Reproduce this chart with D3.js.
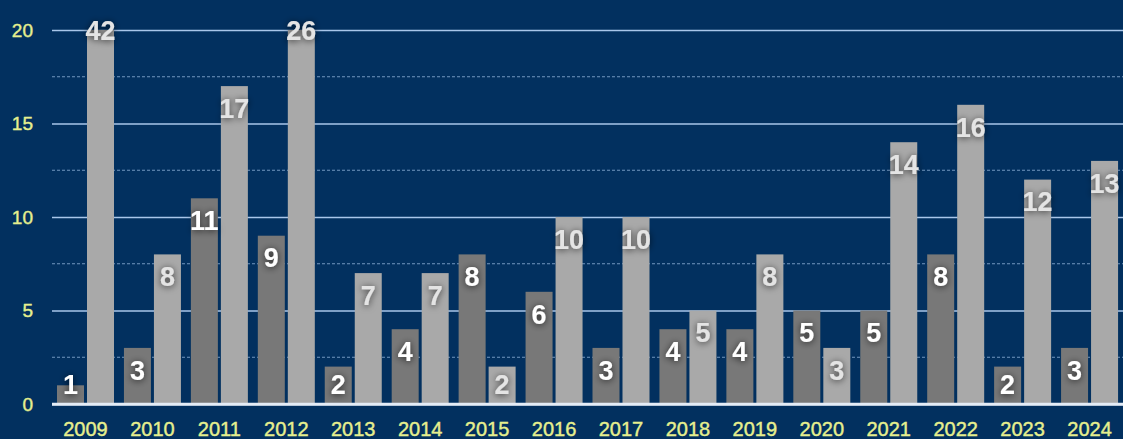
<!DOCTYPE html>
<html>
<head>
<meta charset="utf-8">
<script src="https://cdn.jsdelivr.net/npm/d3@7"></script>
<style>
  html, body { margin: 0; padding: 0; background: #02305f; }
  svg { display: block; }
  .tick text { font-family: "Liberation Sans", Arial, sans-serif; }
</style>
</head>
<body>
<div id="chart"></div>
<script>
// chart data
var years = ["2009", "2010", "2011", "2012", "2013", "2014", "2015", "2016",
             "2017", "2018", "2019", "2020", "2021", "2022", "2023", "2024"];
var darkValues = [1, 3, 11, 9, 2, 4, 8, 6, 3, 4, 4, 5, 5, 8, 2, 3];
var lightValues = [42, 8, 17, 26, 7, 7, 2, 10, 10, 5, 8, 3, 14, 16, 12, 13];
var yTicks = [0, 5, 10, 15, 20];
var yMinorTicks = [2.5, 7.5, 12.5, 17.5];

var svgWidth = 1123;
var svgHeight = 439;
var margin = { top: 30, right: 0, bottom: 35, left: 52 };
var width = svgWidth - margin.left - margin.right;
var height = svgHeight - margin.top - margin.bottom;

var svg = d3.select("#chart")
  .append("svg")
  .attr("width", svgWidth)
  .attr("height", svgHeight);

svg.append("rect")
  .attr("width", svgWidth)
  .attr("height", svgHeight)
  .attr("fill", "#02305f");

// shadow for the value labels
var defs = svg.append("defs");
var filter = defs.append("filter")
  .attr("id", "shadow")
  .attr("x", "-50%").attr("y", "-50%")
  .attr("width", "200%").attr("height", "200%");
filter.append("feDropShadow")
  .attr("dx", 0).attr("dy", 1)
  .attr("stdDeviation", 3.5)
  .attr("flood-color", "#000")
  .attr("flood-opacity", 0.7);

var chartGroup = svg.append("g")
  .attr("transform", `translate(${margin.left}, ${margin.top})`);

var xScale = d3.scaleBand()
  .domain(years)
  .range([0, width]);

var yScale = d3.scaleLinear()
  .domain([0, 20])
  .range([height, 0]);

var yMax = yScale.domain()[1];

// dashed minor gridlines
chartGroup.selectAll(".minor")
  .data(yMinorTicks)
  .enter()
  .append("line")
  .attr("class", "minor")
  .attr("x1", 0)
  .attr("x2", width)
  .attr("y1", d => yScale(d))
  .attr("y2", d => yScale(d))
  .attr("stroke", "#8fb1d8")
  .attr("stroke-width", 1)
  .attr("stroke-dasharray", "3,2")
  .attr("opacity", 0.8);

// y axis with solid gridlines
var leftAxis = d3.axisLeft(yScale)
  .tickValues(yTicks)
  .tickSize(-width)
  .tickPadding(19);

var yAxis = chartGroup.append("g")
  .call(leftAxis);
yAxis.select(".domain").remove();
yAxis.selectAll(".tick line")
  .attr("stroke", d => d === 0 ? "#e4ecf6" : "#a9c6ea")
  .attr("stroke-width", d => d === 0 ? 2.5 : 1.5);
yAxis.selectAll(".tick text")
  .attr("fill", "#e6ef8e")
  .attr("stroke", "#e6ef8e")
  .attr("stroke-width", 0.4)
  .attr("font-size", "19px");

// bars
var barWidth = 27;
var darkOffset = 5;
var lightOffset = 35;

function clip(v) { return Math.min(v, yMax); }

chartGroup.selectAll(".darkBar")
  .data(darkValues)
  .enter()
  .append("rect")
  .attr("class", "darkBar")
  .attr("x", (d, i) => xScale(years[i]) + darkOffset)
  .attr("y", d => yScale(clip(d)))
  .attr("width", barWidth)
  .attr("height", d => height - yScale(clip(d)))
  .attr("fill", "#787878");

chartGroup.selectAll(".lightBar")
  .data(lightValues)
  .enter()
  .append("rect")
  .attr("class", "lightBar")
  .attr("x", (d, i) => xScale(years[i]) + lightOffset)
  .attr("y", d => yScale(clip(d)))
  .attr("width", barWidth)
  .attr("height", d => height - yScale(clip(d)))
  .attr("fill", "#a9a9a9");

// redraw baseline over bars
chartGroup.append("line")
  .attr("x1", 0)
  .attr("x2", width)
  .attr("y1", yScale(0))
  .attr("y2", yScale(0))
  .attr("stroke", "#e4ecf6")
  .attr("stroke-width", 2.5);

// value labels
function labelY(v) {
  if (v > yMax) return yScale(yMax);
  return Math.min(yScale(v) + 22, yScale(0) - 20);
}

chartGroup.selectAll(".darkLabel")
  .data(darkValues)
  .enter()
  .append("text")
  .attr("class", "darkLabel")
  .attr("x", (d, i) => xScale(years[i]) + darkOffset + barWidth / 2)
  .attr("y", d => labelY(d))
  .attr("dy", "0.36em")
  .attr("text-anchor", "middle")
  .attr("font-family", "'Liberation Sans', Arial, sans-serif")
  .attr("font-weight", "bold")
  .attr("font-size", "27px")
  .attr("fill", "#ffffff")
  .attr("filter", "url(#shadow)")
  .text(d => d);

chartGroup.selectAll(".lightLabel")
  .data(lightValues)
  .enter()
  .append("text")
  .attr("class", "lightLabel")
  .attr("x", (d, i) => xScale(years[i]) + lightOffset + barWidth / 2)
  .attr("y", d => labelY(d))
  .attr("dy", "0.36em")
  .attr("text-anchor", "middle")
  .attr("font-family", "'Liberation Sans', Arial, sans-serif")
  .attr("font-weight", "bold")
  .attr("font-size", "27px")
  .attr("fill", "#e4e4e4")
  .attr("filter", "url(#shadow)")
  .text(d => d);

// x axis labels
var bottomAxis = d3.axisBottom(xScale)
  .tickSize(0)
  .tickPadding(18);

var xAxis = chartGroup.append("g")
  .attr("transform", `translate(0, ${height})`)
  .call(bottomAxis);
xAxis.select(".domain").remove();
xAxis.selectAll(".tick text")
  .attr("fill", "#e6ef8e")
  .attr("stroke", "#e6ef8e")
  .attr("stroke-width", 0.4)
  .attr("font-size", "20px");
</script>
</body>
</html>
